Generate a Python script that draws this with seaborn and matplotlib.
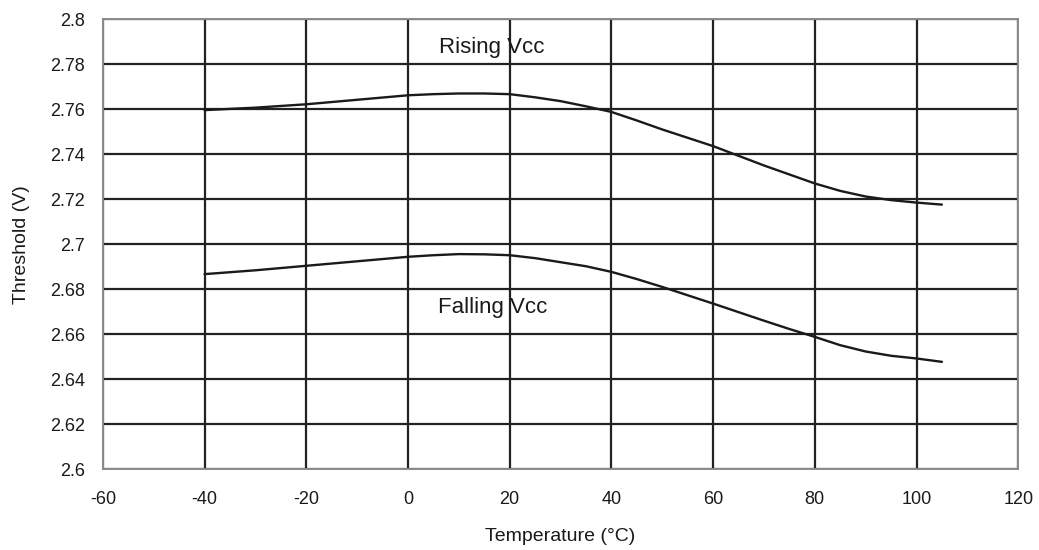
import matplotlib
matplotlib.use("Agg")
import matplotlib.pyplot as plt
import seaborn as sns
import pandas as pd

# values
temps = [-40, -30, -20, -10, 0, 5, 10, 15, 20, 25, 30, 35, 40, 45, 50, 55,
         60, 65, 70, 75, 80, 85, 90, 95, 100, 105]
rising_vcc = [2.7596, 2.7607, 2.7622, 2.7642, 2.7662, 2.7667, 2.7670, 2.7670,
              2.7667, 2.7653, 2.7636, 2.7613, 2.7588, 2.7550, 2.7510, 2.7473,
              2.7436, 2.7393, 2.7350, 2.7310, 2.7270, 2.7237, 2.7212, 2.7196,
              2.7185, 2.7176]
falling_vcc = [2.6867, 2.6884, 2.6904, 2.6924, 2.6944, 2.6951, 2.6956, 2.6955,
               2.6951, 2.6938, 2.6920, 2.6902, 2.6877, 2.6845, 2.6810, 2.6773,
               2.6736, 2.6698, 2.6660, 2.6623, 2.6588, 2.6551, 2.6523, 2.6504,
               2.6492, 2.6477]

x_ticks = list(range(-60, 121, 20))
y_ticks = [2.6, 2.62, 2.64, 2.66, 2.68, 2.7, 2.72, 2.74, 2.76, 2.78, 2.8]
y_tick_labels = ["2.6", "2.62", "2.64", "2.66", "2.68", "2.7", "2.72", "2.74", "2.76", "2.78", "2.8"]

df = pd.DataFrame({"temp": temps + temps,
                   "thr": rising_vcc + falling_vcc,
                   "serie": ["Rising Vcc"] * len(temps) + ["Falling Vcc"] * len(temps)})

sns.set_style("white")
plt.rcParams["font.family"] = ["Liberation Sans", "DejaVu Sans"]

fig, ax = plt.subplots(figsize=(10.39, 5.5), dpi=100)
fig.subplots_adjust(left=0.099, right=0.98, top=0.965, bottom=0.147)

sns.lineplot(data=df, x="temp", y="thr", units="serie", estimator=None,
             color="#1a1a1a", linewidth=1.7, ax=ax, zorder=3)

ax.set_xlim(-60, 120)
ax.set_ylim(2.6, 2.8)
ax.set_xticks(x_ticks)
ax.set_xticklabels([str(t) for t in x_ticks])
ax.set_yticks(y_ticks)
ax.set_yticklabels(y_tick_labels)
ax.grid(True, color="#222222", linewidth=1.6)
ax.set_axisbelow(True)

for sp in ax.spines.values():
    sp.set_color("#8a8a8a")
    sp.set_linewidth(1.4)
ax.tick_params(axis="both", direction="out", length=5, width=1.2, color="#8a8a8a",
               labelsize=13, labelcolor="#1a1a1a", pad=8)
ax.tick_params(axis="x", pad=11)

ax.set_xlabel("Temperature (°C)", fontsize=14, color="#1a1a1a", labelpad=14)
ax.set_ylabel("Threshold (V)", fontsize=14, color="#1a1a1a", labelpad=14)

ax.text(16.5, 2.7876, "Rising Vcc", fontsize=16, ha="center", va="center", color="#1a1a1a")
ax.text(16.7, 2.672, "Falling Vcc", fontsize=16, ha="center", va="center", color="#1a1a1a")

fig.savefig("out.png", dpi=100)
